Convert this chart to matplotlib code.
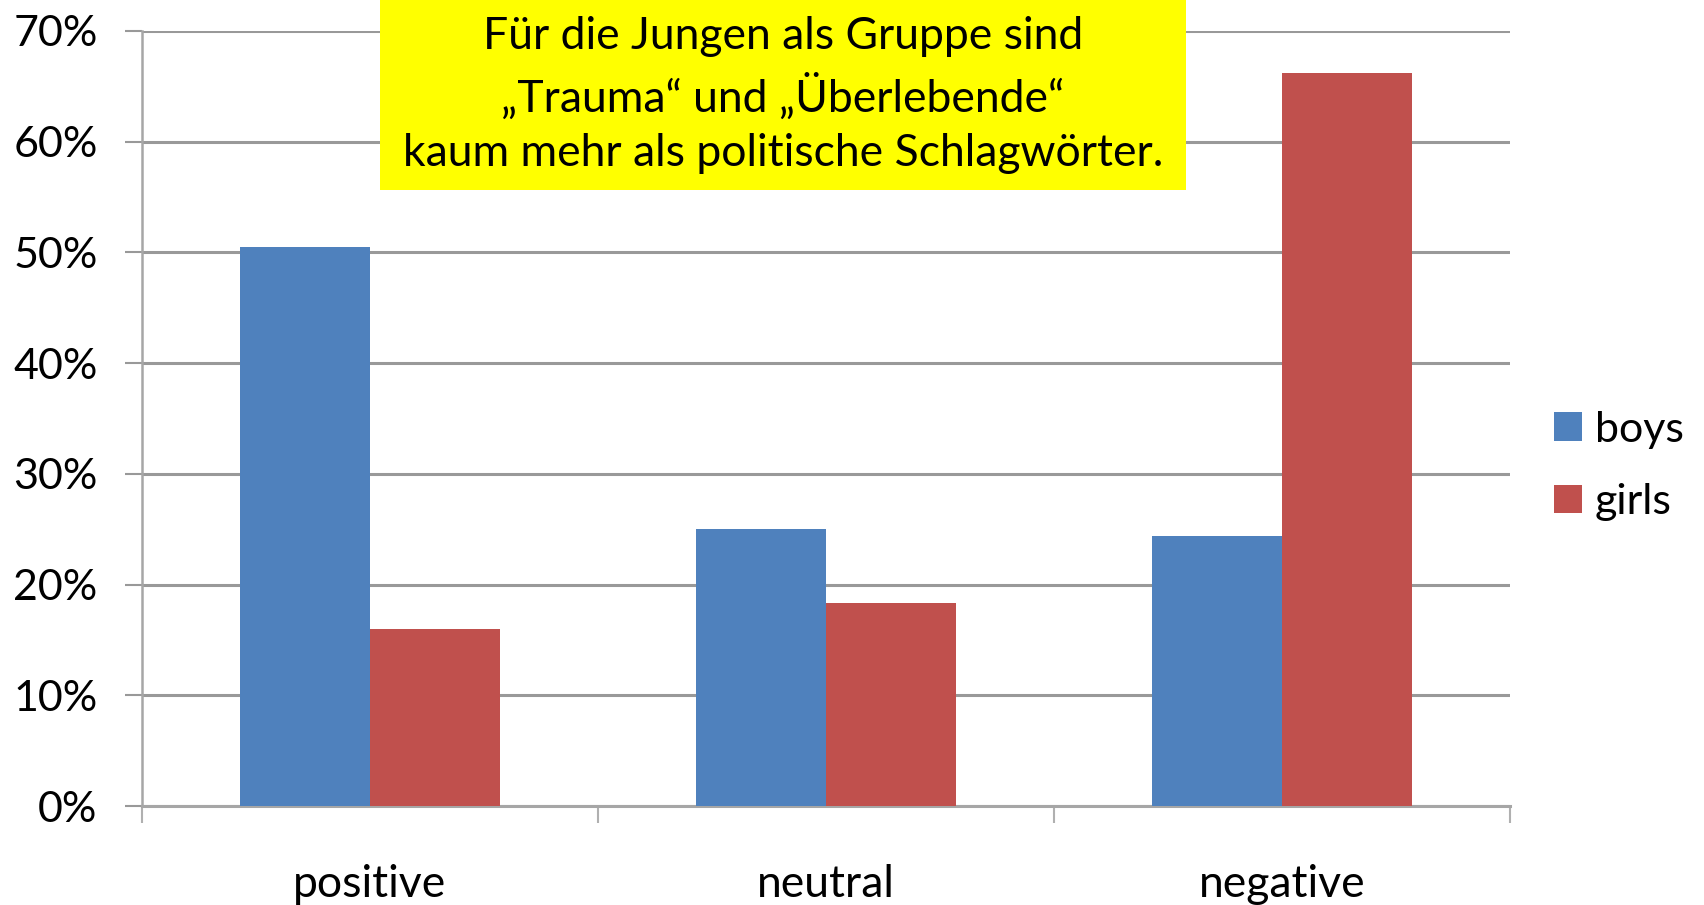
import matplotlib.pyplot as plt
from matplotlib.patches import Patch
import numpy as np

categories = ["positive", "neutral", "negative"]
boys = [50.5, 25.0, 24.4]
girls = [16.0, 18.3, 66.2]
series_names = ["boys", "girls"]
y_ticks = [0, 10, 20, 30, 40, 50, 60, 70]
note = "Für die Jungen als Gruppe sind\n„Trauma“ und „Überlebende“\nkaum mehr als politische Schlagwörter."

blue = "#4F81BD"
red = "#C0504D"
grid_grey = "#999999"

plt.rcParams["font.family"] = ["Lato", "DejaVu Sans"]

fig = plt.figure(figsize=(17.04, 9.05), dpi=100)
ax = fig.add_axes([142 / 1704, 99 / 905, 1368 / 1704, 775 / 905])

x = np.arange(len(categories))
w = 0.286
ax.bar(x - w / 2, boys, width=w, color=blue, zorder=3)
ax.bar(x + w / 2, girls, width=w, color=red, zorder=3)

ax.set_xlim(-0.5, len(categories) - 0.5)
ax.set_ylim(0, 70)
ax.set_yticks(y_ticks)
ax.set_yticklabels([f"{v}%" for v in y_ticks], fontsize=31)
ax.yaxis.grid(True, color=grid_grey, linewidth=2.2, zorder=0)

ax.set_xticks(x)
ax.set_xticklabels(categories, fontsize=32)
ax.set_xticks(np.arange(len(categories) + 1) - 0.5, minor=True)
ax.tick_params(axis="x", which="major", length=0, pad=42)
ax.tick_params(axis="x", which="minor", length=12, width=1.5, color="#b0b0b0")
ax.tick_params(axis="y", length=12, width=1.5, color=grid_grey, pad=20)

for side in ["top", "right"]:
    ax.spines[side].set_visible(False)
ax.spines["left"].set_color("#a6a6a6")
ax.spines["left"].set_linewidth(1.8)
ax.spines["bottom"].set_color("#a6a6a6")
ax.spines["bottom"].set_linewidth(2.2)

# yellow note box drawn over the upper part of the plot
box = fig.add_axes([380 / 1704, 1 - 190 / 905, 806 / 1704, 190 / 905])
box.set_facecolor("#FFFF00")
box.set_xticks([])
box.set_yticks([])
for s in box.spines.values():
    s.set_visible(False)
box.text(0.5, 0.5, note, ha="center", va="center", fontsize=32,
         linespacing=1.4, transform=box.transAxes)

handles = [Patch(facecolor=blue), Patch(facecolor=red)]
fig.legend(handles, series_names, loc="center left", bbox_to_anchor=(1537 / 1704, 1 - 466 / 905),
           frameon=False, fontsize=31, handlelength=0.64, handleheight=0.64,
           handletextpad=0.3, labelspacing=0.8, borderaxespad=0)

fig.savefig("out.png", dpi=100)
